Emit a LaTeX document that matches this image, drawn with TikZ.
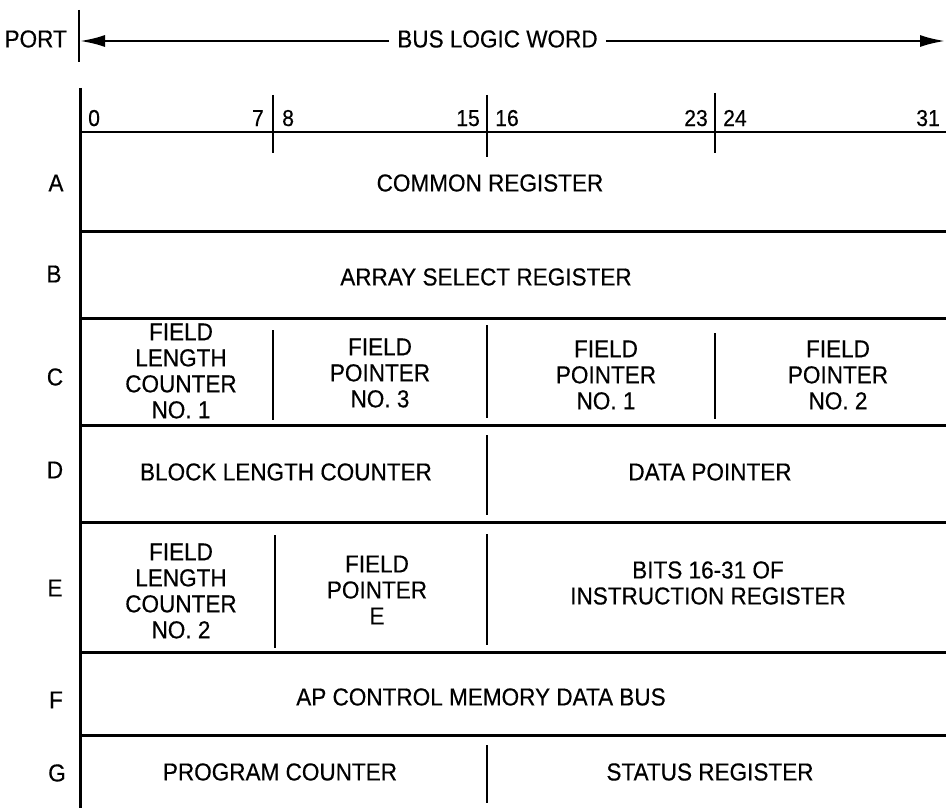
\documentclass[tikz,border=0pt]{standalone}
\usepackage{fontspec}
\setmainfont{Liberation Sans}
\newfontfamily\lblfont[FakeStretch=0.92,FakeBold=0.4]{Liberation Sans}
\usetikzlibrary{arrows.meta}
\begin{document}
\begin{tikzpicture}[x=1pt,y=-1pt,
  lbl/.style={font=\lblfont\fontsize{24.5}{26}\selectfont, inner sep=0pt, align=center},
  bitlbl/.style={font=\lblfont\fontsize{23}{24}\selectfont, inner sep=0pt},
  rowline/.style={line width=3pt},
  divline/.style={line width=2.8pt},
  thinline/.style={line width=2.4pt},
  bigarrow/.style={line width=2.4pt,-{Latex[length=25pt,width=12pt]}}]
\useasboundingbox (0,0) rectangle (946,808);

% top header
\node[lbl, anchor=east] (port) at (67,39) {PORT};
\coordinate (pt1) at (79,10);
\coordinate (pt2) at (79,62);
\draw[thinline] (pt1) -- (pt2);
\node[lbl, inner xsep=8pt] (blw) at (497.5,39) {BUS LOGIC WORD};
\coordinate (al) at (80,41);
\coordinate (ar) at (945,41);
\draw[bigarrow] (blw.west |- al) -- (al);
\draw[bigarrow] (blw.east |- ar) -- (ar);

% frame
\coordinate (lt) at (80,88);
\coordinate (lb) at (80,808);
\draw[rowline] (lt) -- (lb);
\coordinate (h0l) at (80,132);
\coordinate (h0r) at (946,132);
\draw[thinline] (h0l) -- (h0r);
\foreach \y in {231,318,425,522,652,735}
  \draw[rowline] (80,\y) -- (946,\y);

% bit ticks
\draw[divline] (273,95) -- (273,153);
\draw[divline] (487,95) -- (487,157);
\draw[divline] (715,93) -- (715,153);

% bit labels
\node[bitlbl, anchor=base west] (b0) at (88,126) {0};
\node[bitlbl, anchor=base east] (b7) at (264,126) {7};
\node[bitlbl, anchor=base west] (b8) at (282,126) {8};
\node[bitlbl, anchor=base east] (b15) at (480,126) {15};
\node[bitlbl, anchor=base west] (b16) at (495,126) {16};
\node[bitlbl, anchor=base east] (b23) at (708,126) {23};
\node[bitlbl, anchor=base west] (b24) at (723,126) {24};
\node[bitlbl, anchor=base east] (b31) at (940,126) {31};

% port labels
\node[lbl] (pA) at (56,183) {A};
\node[lbl] (pB) at (54,274) {B};
\node[lbl] (pC) at (55,377) {C};
\node[lbl] (pD) at (55,470) {D};
\node[lbl] (pE) at (55,588) {E};
\node[lbl] (pF) at (56,700) {F};
\node[lbl] (pG) at (57,773) {G};

% row dividers
\draw[divline] (273,330) -- (273,420);
\draw[divline] (487,325) -- (487,418);
\draw[divline] (715,333) -- (715,419);
\draw[divline] (487,435) -- (487,515);
\draw[divline] (275,535) -- (275,648);
\draw[divline] (487,534) -- (487,645);
\draw[divline] (487,745) -- (487,803);

% row texts
\node[lbl] (tA) at (490,183) {COMMON REGISTER};
\node[lbl] (tB) at (486,277) {ARRAY SELECT REGISTER};
\node[lbl] (tC1) at (181,371) {FIELD\\LENGTH\\COUNTER\\NO. 1};
\node[lbl] (tC2) at (380,373) {FIELD\\POINTER\\NO. 3};
\node[lbl] (tC3) at (606,375) {FIELD\\POINTER\\NO. 1};
\node[lbl] (tC4) at (838,375) {FIELD\\POINTER\\NO. 2};
\node[lbl] (tD1) at (286,472) {BLOCK LENGTH COUNTER};
\node[lbl] (tD2) at (710,472) {DATA POINTER};
\node[lbl] (tE1) at (181,591) {FIELD\\LENGTH\\COUNTER\\NO. 2};
\node[lbl] (tE2) at (377,590) {FIELD\\POINTER\\E};
\node[lbl] (tE3) at (708,583) {BITS 16-31 OF\\INSTRUCTION REGISTER};
\node[lbl] (tF) at (481,697) {AP CONTROL MEMORY DATA BUS};
\node[lbl] (tG1) at (280,772) {PROGRAM COUNTER};
\node[lbl] (tG2) at (710,772) {STATUS REGISTER};
\end{tikzpicture}
\end{document}
